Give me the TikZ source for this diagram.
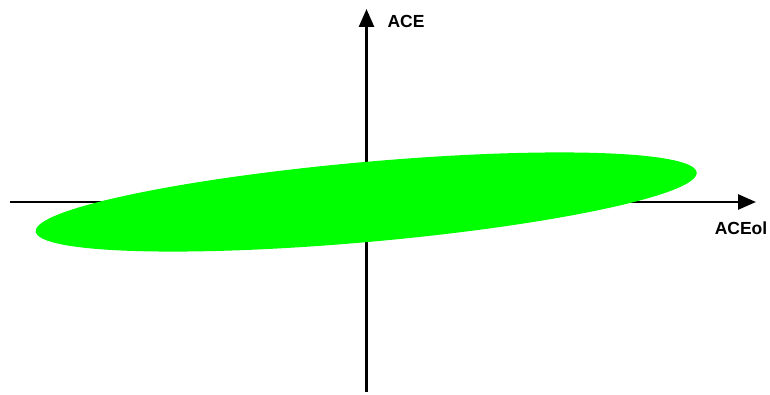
\documentclass[tikz,border=0pt]{standalone}
\usepackage{fontspec}
\setmainfont{Liberation Sans}
\usetikzlibrary{arrows.meta}
\begin{document}
\begin{tikzpicture}[x=1pt,y=1pt,
  axis/.style={line width=2.6pt,-{Triangle[length=18pt,width=15pt]}},
  lbl/.style={font=\fontsize{17.5}{20}\selectfont\bfseries,inner sep=0pt}]
\useasboundingbox (0,0) rectangle (770,394);
\coordinate (xs) at (10,192);
\coordinate (xe) at (756,192);
\coordinate (ys) at (366.5,2);
\coordinate (ye) at (366.5,385);
\draw[axis] (xs) -- (xe);
\draw[axis] (ys) -- (ye);
\fill[green] (366.2,192) ellipse[x radius=331.8, y radius=40, rotate=5.1];
\node[lbl] (ylab) at (406,373) {ACE};
\node[lbl] (xlab) at (741,166) {ACEol};
\end{tikzpicture}
\end{document}
